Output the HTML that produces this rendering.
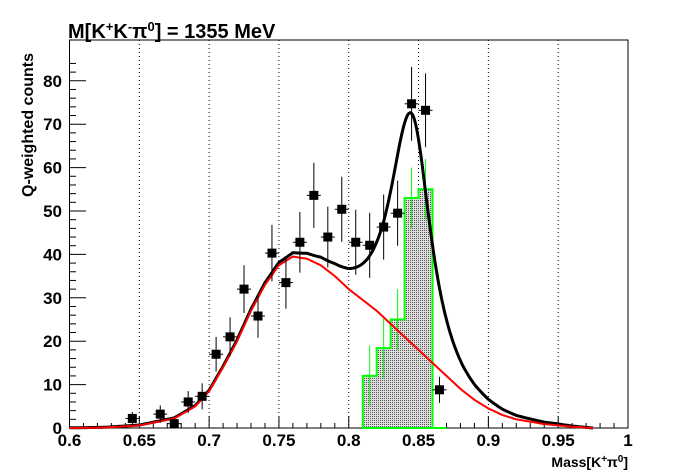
<!DOCTYPE html><html><head><meta charset="utf-8"><style>body{margin:0;background:#fff}svg{display:block;font-family:"Liberation Sans",sans-serif;font-weight:bold}</style></head><body>
<svg id="s" width="698" height="476" viewBox="0 0 698 476">
<defs><pattern id="h" width="2" height="2" patternUnits="userSpaceOnUse"><rect width="2" height="2" fill="#ddd"/><rect width="1" height="1" fill="#555"/></pattern></defs>
<rect x="69.5" y="40" width="558.5" height="388" fill="none" stroke="#000" stroke-width="1"/>
<text x="68" y="38" font-size="20">M[K<tspan dy="-7" font-size="13">+</tspan><tspan dy="7">K</tspan><tspan dy="-7" font-size="13">-</tspan><tspan dy="7">π</tspan><tspan dy="-7" font-size="13">0</tspan><tspan dy="7">] = 1355 MeV</tspan></text>
<text transform="translate(33,125) rotate(-90)" font-size="16" text-anchor="middle">Q-weighted counts</text>
<text x="628" y="467" font-size="14" text-anchor="end">Mass[K<tspan dy="-5" font-size="10">+</tspan><tspan dy="5">π</tspan><tspan dy="-5" font-size="10">0</tspan><tspan dy="5">]</tspan></text>
<g id="g"></g>
</svg>
<script>
const g=document.getElementById('g');let o='';
const X=v=>69.5+(v-0.6)*1396.25, Y=v=>428-v*4.34;
for(let v=0.65;v<0.96;v+=0.05)o+=`<line x1="${X(v)}" y1="40" x2="${X(v)}" y2="428" stroke="#000" stroke-dasharray="1,3" stroke-width="1"/>`;
for(let i=0;i<=40;i++){const x=X(0.6+i*0.01);o+=`<line x1="${x}" y1="428" x2="${x}" y2="${i%5?423:416}" stroke="#000"/>`;}
['0.6','0.65','0.7','0.75','0.8','0.85','0.9','0.95','1'].forEach((t,i)=>o+=`<text x="${X(0.6+i*0.05)}" y="446" font-size="17" text-anchor="middle">${t}</text>`);
for(let i=0;i<=85;i+=2){const y=Y(i);if(y<40)break;o+=`<line x1="69.5" y1="${y}" x2="${i%10?76:86}" y2="${y}" stroke="#000"/>`;}
for(let i=0;i<=80;i+=10)o+=`<text x="62" y="${Y(i)+6}" font-size="17" text-anchor="end">${i}</text>`;
const hb=[[0.81,12],[0.82,18.4],[0.83,25],[0.84,53],[0.85,55]];
let p=`M${X(0.81)},428`;hb.forEach(([a,h])=>p+=`L${X(a)},${Y(h)}L${X(a+0.01)},${Y(h)}`);p+=`L${X(0.86)},428Z`;
o+=`<path d="${p}" fill="url(#h)" stroke="#0f0" stroke-width="2"/>`;
o+=`<line x1="${X(0.86)}" y1="428" x2="${X(0.87)}" y2="428" stroke="#0f0" stroke-width="2"/>`;
hb.forEach(([a,h])=>o+=`<line x1="${X(a+0.005)}" y1="${Y(h-7)}" x2="${X(a+0.005)}" y2="${Y(h+7)}" stroke="#0f0"/>`);
const R=[[0.6,0],[0.625,0.1],[0.65,0.6],[0.675,2.2],[0.69,5],[0.7,8.5],[0.71,14],[0.72,20],[0.73,27],[0.74,33],[0.75,37.5],[0.76,39.5],[0.77,39],[0.78,37.5],[0.79,35],[0.8,32],[0.81,29.5],[0.82,27],[0.83,24],[0.84,21],[0.85,18],[0.86,15],[0.87,12],[0.88,9],[0.89,6.5],[0.9,4.5],[0.91,3],[0.92,2],[0.94,0.9],[0.96,0.3],[0.975,0]];
function red(v){for(let i=0;i<R.length-1;i++)if(v<=R[i+1][0]){const t=(v-R[i][0])/(R[i+1][0]-R[i][0]);return R[i][1]+t*(R[i+1][1]-R[i][1]);}return 0;}
let rp='',bp='';
for(let v=0.6;v<=0.9751;v+=0.001){const r=red(v),d=v-0.845,gg=d<0?0.0225:0.02,b=r+53/Math.pow(1+(d/gg)**2,1.5)*(v>0.95?Math.max(0,(0.975-v)/0.025):1);
rp+=(rp?'L':'M')+X(v).toFixed(1)+','+Y(r).toFixed(1);bp+=(bp?'L':'M')+X(v).toFixed(1)+','+Y(b).toFixed(1);}
o+=`<path d="${bp}" fill="none" stroke="#000" stroke-width="3"/>`;
o+=`<path d="${rp}" fill="none" stroke="#f00" stroke-width="2"/>`;
const D=[[0.645,2.2,1.5],[0.665,3.2,2],[0.675,1,1],[0.685,6,2.5],[0.695,7.3,3],[0.705,17,4],[0.715,21,4.5],[0.725,32,5.5],[0.735,25.8,5],[0.745,40.3,6.5],[0.755,33.5,6],[0.765,42.8,7],[0.775,53.6,7.5],[0.785,44,7],[0.795,50.4,7.5],[0.805,42.8,7.5],[0.815,42.1,7.5],[0.825,46.3,7.5],[0.835,49.5,7.5],[0.845,74.7,8.5],[0.855,73.2,8.5],[0.865,8.8,3]];
D.forEach(([x,v,e])=>{const px=X(x),py=Y(v);o+=`<line x1="${px}" y1="${Y(v-e)}" x2="${px}" y2="${Y(v+e)}" stroke="#000"/><line x1="${X(x-0.005)}" y1="${py}" x2="${X(x+0.005)}" y2="${py}" stroke="#000"/><rect x="${px-4.5}" y="${py-4.5}" width="9" height="9" fill="#000"/>`;});
g.innerHTML=o;
</script></body></html>
